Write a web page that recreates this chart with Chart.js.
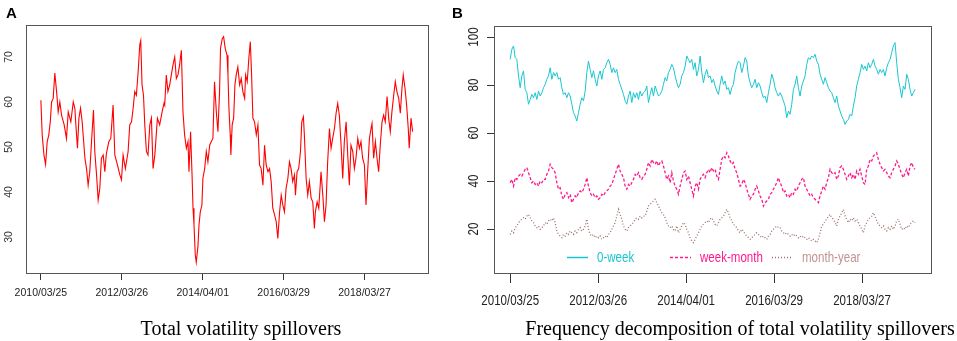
<!DOCTYPE html>
<html lang="en">
<head>
  <meta charset="UTF-8" />
  <title>Total volatility spillovers</title>
  <script src="https://cdn.jsdelivr.net/npm/chart.js"></script>
  <style>
    body { margin: 0; background: #fff; }
    .wrap { position: relative; width: 957px; height: 341px; overflow: hidden; }
    canvas { position: absolute; top: 0; }
    #chartA { left: 0; }
    #chartB { left: 455px; }
    .letter {
      position: absolute; top: 4px;
      font: bold 15px 'Liberation Sans', Arial, sans-serif; color: #000;
    }
    .caption {
      position: absolute; top: 317px; white-space: nowrap;
      font: 20px 'Liberation Serif', 'Times New Roman', serif; color: #000;
      transform: translateX(-50%);
    }
  </style>
</head>
<body>
  <div class="wrap">
    <canvas id="chartA" width="478" height="341"></canvas>
    <canvas id="chartB" width="502" height="341"></canvas>
    <div class="letter" style="left:6px">A</div>
    <div class="letter" style="left:452px">B</div>
    <div class="caption" style="left:241px">Total volatility spillovers</div>
    <div class="caption" style="left:740px">Frequency decomposition of total volatility spillovers</div>
  </div>

  <script>
    // x axis is the observation number; labelled with the dates R printed
    const dateTicks = [0, 500, 1000, 1500, 2000];
    const dateLabels = ['2010/03/25', '2012/03/26', '2014/04/01', '2016/03/29', '2018/03/27'];
    const ticksA = [30, 40, 50, 60, 70];
    const ticksB = [20, 40, 60, 80, 100];

    // panel A: total spillover index (observation, value)
    const totalObs = [
      0, 8, 19, 29, 39, 49, 58, 66, 76, 86, 97, 107, 117, 128, 144, 158, 169, 185, 200, 210,
      216, 226, 235, 245, 255, 272, 282, 292, 302, 313, 325, 333, 344, 354, 364, 374, 385, 395, 405, 420,
      432, 446, 457, 473, 488, 498, 508, 522, 539, 549, 560, 570, 580, 590, 601, 611, 617, 625, 634, 642,
      652, 662, 673, 683, 693, 704, 720, 734, 749, 761,
      765, 775, 785, 796, 806, 816, 827, 837, 847, 857, 868, 878, 888, 899, 909, 915, 925, 934, 940, 946,
      954, 960, 971, 977, 985, 995, 1001, 1012, 1022, 1032, 1043, 1053, 1063, 1073, 1084, 1094, 1104, 1110, 1121, 1129,
      1139, 1150, 1156, 1162, 1170, 1174, 1182, 1191, 1199, 1207, 1217, 1228, 1238, 1248, 1259, 1265, 1275, 1285, 1294, 1302,
      1310, 1320, 1331, 1341, 1351, 1361, 1372, 1382, 1392, 1403, 1413, 1423, 1433, 1444, 1454, 1464, 1475, 1485, 1495,
      1505, 1515, 1526, 1536, 1546, 1556, 1567, 1573, 1583, 1593, 1604, 1612, 1622, 1628, 1639, 1649, 1659, 1670, 1680, 1690,
      1696, 1707, 1717, 1731, 1742, 1752, 1762, 1772, 1783, 1793, 1803, 1814, 1824, 1834, 1844, 1855, 1865, 1875, 1886, 1896,
      1906, 1916, 1927, 1937, 1947, 1958, 1968, 1978, 1988, 1999, 2009, 2019, 2030, 2040, 2046, 2056, 2067, 2077, 2087, 2097,
      2108, 2118, 2128, 2139, 2149, 2159, 2169, 2180, 2190, 2200, 2211, 2221, 2231, 2239, 2250, 2260, 2270, 2276, 2287, 2297
    ];
    const totalVal = [
      60.4, 52.7, 48.2, 46.1, 51.2, 52.7, 55.6, 60, 60.8, 66.4, 62.3, 57.8, 60, 57, 54.9, 51.9, 57.8, 55.6, 60, 58.6,
      55, 49.7, 56.4, 58.6, 55.6, 47.5, 45.2, 41.5, 44.5, 51.2, 58.2, 49, 43.8, 38.2, 40.8, 47.5, 48.2, 44.5, 48.6, 51.2,
      51.9, 59.3, 48.2, 46, 43.8, 42.7, 48.2, 45.2, 49, 54.9, 55.6, 58.6, 62.3, 61.5, 66.7, 72.7, 73.6, 63.8, 61.5, 54.9,
      49, 48.2, 54.9, 56.4, 45.2, 48.2, 56.4, 54.9, 57.8, 59.7,
      59.3, 66, 62.3, 63.8, 66, 68.2, 70, 65.2, 66, 68.2, 71.5, 57.8, 52.7, 49.7, 51.2, 44.5, 53.4, 43.8, 36.4, 32.7,
      26, 24.4, 28.2, 32.7, 35.6, 37.1, 43, 45.2, 49, 46.7, 50.4, 51.2, 51.9, 64.5, 57.8, 53.4, 62.3, 71.9, 74.1, 74.5,
      71.9, 70.4, 66, 58.6, 52.7, 48.2, 54.9, 56.4, 63.8, 66, 67.8, 63.8, 65.2, 62.3, 60.8, 66, 64.5, 69.7, 73.4, 66,
      56.4, 55.6, 52.7, 54.9, 46, 45.2, 41.5, 50.4, 46, 44.5, 45.2, 42.3, 36.4, 34.9, 33.4, 29.7, 35.6, 39.3, 37.1,
      35.6, 40.8, 43, 46.7, 45.2, 42.3, 43.8, 39.3, 44.5, 45.2, 49, 55.6, 56.7, 52.7, 43, 39.3, 42.3, 38.6, 37.8, 31.9,
      35.6, 37.8, 36.4, 44.5, 39.3, 33.4, 37.1, 46.7, 54.1, 49.7, 51.9, 54.1, 57.5, 59.7, 57.1, 50.4, 43, 51.2, 55.6, 48.2,
      41.5, 50.4, 49, 45.2, 47.5, 51.9, 49.7, 51.2, 47.5, 46, 37.1, 44.5, 51.9, 54.1, 55.2, 47.5, 51.2, 47.5, 44.5, 50.4,
      55.6, 57.1, 55.6, 61.2, 56.4, 53.4, 57.8, 61.5, 64.5, 62.3, 60.8, 57.5, 63, 66, 63, 59.3, 54.1, 49.7, 56.4, 53.4
    ];

    // panel B: one sample every bandStep observations
    const bandStep = 9.47;
    const weekBand = [
      90.7, 94.9, 96.3, 91.4, 90.7, 83.8, 78.9, 83.8, 85.9, 78.2, 76.8, 72, 74, 76.1, 74.7, 76.8, 74, 77.5, 75.4, 76.8,
      78.9, 80.3, 82.4, 83.8, 87.2, 82.4, 85.2, 83.8, 85.2, 82.4, 83.1, 78.9, 76.1, 76.8, 74.7, 76.8, 75.4, 72, 68.5, 67.1,
      65, 68.5, 72, 74.7, 73.4, 77.5, 85.2, 90, 86.5, 83.1, 85.9, 82.4, 79.6, 83.8, 85.9, 82.4, 86.5, 87.2, 89.3, 90.7,
      88.6, 85.2, 87.2, 85.2, 86.5, 82.4, 80.3, 78.2, 76.1, 73.4, 72, 75.4, 77.5, 72.7, 76.8, 74.7, 76.8, 74, 77.5, 75.4,
      76.8,
      77.5, 79.6, 72.7, 76.1, 78.9, 75.4, 79.6, 77.5, 75.4, 76.1, 77.5, 80.3, 83.1, 81.7, 85.2, 86.5, 88.6, 87.2, 83.8, 81,
      78.9, 80.3, 83.8, 85.2, 87.9, 92.1, 90.7, 89.3, 90.7, 86.5, 89.3, 83.8, 86.5, 92.1, 85.2, 81, 84.5, 86.5, 83.1, 83.8,
      81, 82.4, 79.6, 77.5, 76.1, 80.3, 83.8, 80.3, 81.7, 78.2, 78.9, 76.1, 78.9, 80.3, 85.2, 87.9, 90, 89.3, 85.2, 87.9,
      91.4, 90, 83.8, 81, 78.9, 80.3, 82.4, 78.9, 81, 79.6, 76.8, 74.7, 75.4, 72.7, 76.8, 80.3, 84.5, 82.4, 78.9, 76.8,
      75.4,
      76.8, 75.4, 73.4, 71.3, 66.4, 69.2, 67.8, 72, 78.2, 80.3, 83.8, 78.9, 75.4, 79.6, 81.7, 83.8, 88.6, 91.4, 90.7, 92.1,
      91.4, 92.8, 90, 88.6, 84.5, 82.4, 80.3, 83.1, 81, 78.9, 77.5, 76.8, 74.7, 72.7, 75.4, 71.3, 69.2, 67.1, 65.7, 63.6,
      65, 65.7, 67.8, 67.1, 71.3, 74.7, 79.6, 82.4, 85.2, 88.6, 86.5, 87.9, 85.9, 89.3, 87.2, 88.6, 90.7, 87.9, 86.5, 84.5,
      86.5, 85.2, 86.5, 83.8, 87.2, 89.3, 90.7, 93.5, 96.3, 97.7, 89.3, 82.4, 78.9, 74.7, 79.6, 78.2, 84.5, 82.4, 78.2, 75.4,
      76.8, 78.2
    ];
    const monthBand = [
      39.3, 40.7, 37.9, 41.4, 40.7, 42.1, 42.8, 42.1, 43.5, 44.9, 45.6, 43.5, 41.4, 39.3, 40, 38.6, 39.3, 37.9, 40, 39.3,
      40.7, 40.7, 42.8, 44.2, 47, 45.6, 44.9, 43.5, 39.3, 36.6, 37.2, 33.8, 32.4, 34.5, 35.2, 33.1, 34.5, 31, 32.4, 33.8,
      33.1, 35.2, 35.9, 35.2, 36.6, 38.6, 41.4, 37.9, 35.2, 33.8, 34.5, 33.1, 33.8, 32.4, 33.1, 34.5, 33.8, 35.2, 35.9, 36.6,
      37.9, 38.6, 40.7, 42.8, 44.9, 47, 44.2, 42.8, 41.4, 37.9, 36.6, 38.6, 37.9, 39.3, 40.7, 42.8, 42.1, 43.5, 41.4, 40.7,
      42.1,
      42.8, 44.9, 47.7, 46.3, 49, 47.7, 47, 48.4, 46.3, 47.7, 48.4, 46.3, 43.5, 40.7, 42.1, 39.3, 43.5, 40, 37.9, 36.6,
      34.5, 37.9, 40.7, 43.5, 44.2, 40.7, 42.1, 39.3, 36.6, 33.8, 37.9, 39.3, 36.6, 40.7, 42.1, 42.8, 41.4, 43.5, 44.9, 43.5,
      45.6, 44.2, 44.9, 42.1, 40.7, 44.9, 49, 50.4, 49.7, 51.8, 50.4, 48.4, 47, 47.7, 44.9, 43.5, 40.7, 37.9, 38.6, 40.7,
      39.3, 36.6, 34.5, 32.4, 33.8, 34.5, 36.6, 37.9, 35.9, 33.8, 32.4, 29.6, 31, 31.7, 32.4, 34.5, 35.2, 36.6, 37.9, 39.3,
      41.4,
      39.3, 37.9, 35.2, 35.9, 33.8, 34.5, 33.1, 35.2, 34.5, 36.6, 35.9, 37.9, 39.3, 40.7, 41.4, 37.9, 36.6, 35.2, 33.8, 34.5,
      33.1, 32.4, 31.7, 31, 33.8, 35.9, 37.9, 36.6, 39.3, 41.4, 44.9, 43.5, 42.8, 43.5, 40.7, 42.1, 45.6, 46.3, 44.9, 42.8,
      40.7, 42.1, 43.5, 41.4, 42.8, 40.7, 44.2, 42.8, 44.9, 42.1, 39.3, 38.6, 44.9, 46.3, 49, 48.4, 50.4, 51.1, 51.8, 49,
      47, 45.6, 44.2, 44.9, 43.5, 42.1, 41.4, 43.5, 44.9, 46.3, 48.4, 47, 44.9, 42.8, 41.4, 43.5, 44.9, 42.1, 46.3, 47.7,
      45.6, 44.9
    ];
    const yearBand = [
      17.8, 19.2, 18.5, 20.6, 21.3, 22.7, 23.4, 24.1, 24.7, 24.1, 25.4, 26.1, 24.7, 23.4, 22.7, 21.3, 20.6, 21.3, 19.9, 20.6,
      21.3, 22.7, 22, 23.4, 24.1, 23.4, 24.7, 22.7, 19.2, 17.8, 17.1, 16.4, 17.8, 17.1, 18.5, 17.8, 19.2, 18.5, 17.8, 19.2,
      18.5, 19.9, 20.6, 19.2, 19.9, 21.3, 24.1, 19.9, 17.8, 17.1, 17.8, 16.4, 17.1, 16.4, 17.1, 15.7, 16.4, 17.1, 16.4, 17.8,
      18.5, 19.9, 21.3, 22.7, 25.4, 28.2, 26.1, 24.1, 21.3, 19.9, 19.2, 20.6, 21.3, 22, 22.7, 24.1, 24.7, 24.1, 25.4, 24.7,
      25.4,
      25.4, 27.5, 29.6, 30.3, 31, 31.7, 32.4, 31, 29.6, 28.2, 26.8, 26.1, 24.7, 22.7, 21.3, 20.6, 21.3, 19.9, 19.2, 21.3,
      18.5, 19.9, 21.3, 22.7, 22, 19.9, 18.5, 16.4, 15, 14.3, 15.7, 17.1, 18.5, 19.9, 21.3, 22, 22.7, 23.4, 22.7, 24.1,
      24.7, 23.4, 22, 21.3, 22.7, 24.1, 24.7, 25.4, 26.8, 28.2, 26.8, 24.7, 23.4, 22, 21.3, 20.6, 19.2, 18.5, 19.9, 19.2,
      17.8, 17.1, 16.4, 15.7, 16.4, 17.1, 17.8, 18.5, 17.8, 17.1, 16.4, 17.1, 16.4, 15.7, 17.1, 17.8, 19.2, 19.9, 20.6, 21.3,
      20.6,
      20.6, 19.2, 18.5, 17.8, 18.5, 17.8, 17.1, 17.8, 17.1, 17.8, 17.1, 16.4, 17.1, 16.4, 17.1, 16.4, 15.7, 16.4, 15.7, 15,
      15.7, 15, 14.3, 15.7, 18.5, 21.3, 22, 23.4, 24.1, 25.4, 26.1, 24.7, 24.1, 22.7, 21.3, 24.1, 25.4, 26.8, 28.2, 25.4,
      24.1, 22.7, 24.1, 23.4, 24.7, 23.4, 24.1, 22.7, 21.3, 19.9, 18.5, 21.3, 22.7, 24.1, 24.7, 25.4, 26.8, 25.4, 23.4, 22,
      21.3, 20.6, 21.3, 19.9, 19.2, 20.6, 19.9, 21.3, 19.9, 21.3, 23.4, 24.1, 22, 19.9, 20.6, 19.9, 21.3, 20.6, 22, 22.7,
      23.4, 22.7
    ];

    const sansA = "'Liberation Sans', Arial, sans-serif";
    const fontB = "15px 'Liberation Sans', Arial, sans-serif";
    const narrow = 0.77;   // panel B text looks like Arial Narrow

    // text squeezed horizontally (in its own reading direction)
    function squeezed(ctx, text, x, y, angle, sx) {
      ctx.save();
      ctx.translate(x, y);
      ctx.rotate(angle);
      ctx.scale(sx, 1);
      ctx.fillText(text, 0, 0);
      ctx.restore();
    }

    // R-style closed box round the plotting region
    const frameBox = {
      id: 'frameBox',
      afterDraw(chart) {
        const { ctx, chartArea: a } = chart;
        ctx.save();
        ctx.strokeStyle = '#555';
        ctx.lineWidth = 1;
        ctx.strokeRect(Math.round(a.left) + 0.5, Math.round(a.top) + 0.5,
          Math.round(a.right - a.left), Math.round(a.bottom - a.top));
        ctx.restore();
      }
    };

    // rotated y tick labels (las = 0 in R), optional x labels drawn the same way
    const axisText = {
      id: 'axisText',
      afterDraw(chart, args, opts) {
        const { ctx, chartArea: a } = chart;
        const ys = chart.scales.y, xs = chart.scales.x;
        ctx.save();
        ctx.font = opts.font;
        ctx.fillStyle = opts.color;
        ctx.textAlign = 'center';
        ctx.textBaseline = 'middle';
        ys.ticks.forEach(t => {
          squeezed(ctx, String(t.value), a.left - opts.yOffset, ys.getPixelForValue(t.value), -Math.PI / 2, opts.squeeze);
        });
        if (opts.xOffset) {
          xs.ticks.forEach((t, i) => {
            squeezed(ctx, dateLabels[i], xs.getPixelForValue(t.value), a.bottom + opts.xOffset, 0, opts.squeeze);
          });
        }
        ctx.restore();
      }
    };

    // legend inside panel B, built from the datasets
    const bandLegend = {
      id: 'bandLegend',
      afterDraw(chart, args, opts) {
        if (!opts.starts) return;
        const { ctx, chartArea: a } = chart;
        const y = Math.round(a.bottom - opts.lift) + 0.5;
        ctx.save();
        ctx.font = opts.font;
        ctx.textAlign = 'left';
        ctx.textBaseline = 'middle';
        chart.data.datasets.forEach((ds, i) => {
          const x = a.left + opts.starts[i];
          ctx.strokeStyle = ds.borderColor;
          ctx.lineWidth = 1.5;
          ctx.setLineDash(ds.borderDash || []);
          ctx.beginPath();
          ctx.moveTo(x, y);
          ctx.lineTo(x + opts.sample, y);
          ctx.stroke();
          ctx.fillStyle = ds.labelColor || ds.borderColor;
          squeezed(ctx, ds.label, x + opts.sample + opts.gap, y, 0, opts.squeeze);
        });
        ctx.restore();
      }
    };

    function dateAxis(tickLen, showLabels) {
      return {
        type: 'linear', min: -92, max: 2392,
        afterBuildTicks: s => { s.ticks = dateTicks.map(v => ({ value: v })); },
        afterFit: s => { s.height = 68; },
        ticks: {
          display: showLabels,
          autoSkip: false, minRotation: 0, maxRotation: 0, padding: 7,
          color: '#222', font: { family: sansA, size: 10.5 },
          callback: (v, i) => dateLabels[i]
        },
        grid: { drawOnChartArea: false, tickLength: tickLen, color: '#333' },
        border: { display: false }
      };
    }

    new Chart(document.getElementById('chartA'), {
      type: 'line',
      data: {
        datasets: [{
          label: 'Total volatility spillovers',
          data: totalObs.map((o, i) => ({ x: o, y: totalVal[i] })),
          borderColor: '#ff0000',
          borderWidth: 1.1,
          pointRadius: 0,
          tension: 0
        }]
      },
      options: {
        responsive: false,
        animation: false,
        events: [],
        layout: { padding: { top: 25, right: 50, left: 0, bottom: 0 } },
        scales: {
          x: dateAxis(7, true),
          y: {
            min: 22.0, max: 77.1,
            afterBuildTicks: s => { s.ticks = ticksA.map(v => ({ value: v })); },
            afterFit: s => { s.width = 26; },
            ticks: { display: false },
            grid: { display: false },
            border: { display: false }
          }
        },
        plugins: {
          legend: { display: false },
          tooltip: { enabled: false },
          axisText: { font: `10.5px ${sansA}`, color: '#333', yOffset: 17, squeeze: 1 }
        }
      },
      plugins: [frameBox, axisText]
    });

    const bandPoints = arr => arr.map((v, i) => ({ x: i * bandStep, y: v }));

    new Chart(document.getElementById('chartB'), {
      type: 'line',
      data: {
        datasets: [
          { label: '0-week', data: bandPoints(weekBand), borderColor: '#19c6cf', borderWidth: 1, pointRadius: 0, tension: 0 },
          { label: 'week-month', data: bandPoints(monthBand), borderColor: '#ff1a8c', borderWidth: 1.3, borderDash: [3, 2], pointRadius: 0, tension: 0 },
          { label: 'month-year', data: bandPoints(yearBand), borderColor: '#9e706e', labelColor: '#bf9391', borderWidth: 1.3, borderDash: [1, 2], pointRadius: 0, tension: 0 }
        ]
      },
      options: {
        responsive: false,
        animation: false,
        events: [],
        layout: { padding: { top: 26, right: 26, left: 0, bottom: 0 } },
        scales: {
          x: dateAxis(10, false),
          y: {
            min: 1.7, max: 104.6,
            afterBuildTicks: s => { s.ticks = ticksB.map(v => ({ value: v })); },
            afterFit: s => { s.width = 39; },
            ticks: { display: false },
            grid: { drawOnChartArea: false, tickLength: 7, color: '#333' },
            border: { display: false }
          }
        },
        plugins: {
          legend: { display: false },
          tooltip: { enabled: false },
          axisText: { font: fontB, color: '#222', yOffset: 20, xOffset: 28, squeeze: narrow },
          bandLegend: { starts: [73, 176, 278], sample: 21, gap: 9, lift: 16, font: fontB, squeeze: narrow }
        }
      },
      plugins: [frameBox, axisText, bandLegend]
    });
  </script>
</body>
</html>
